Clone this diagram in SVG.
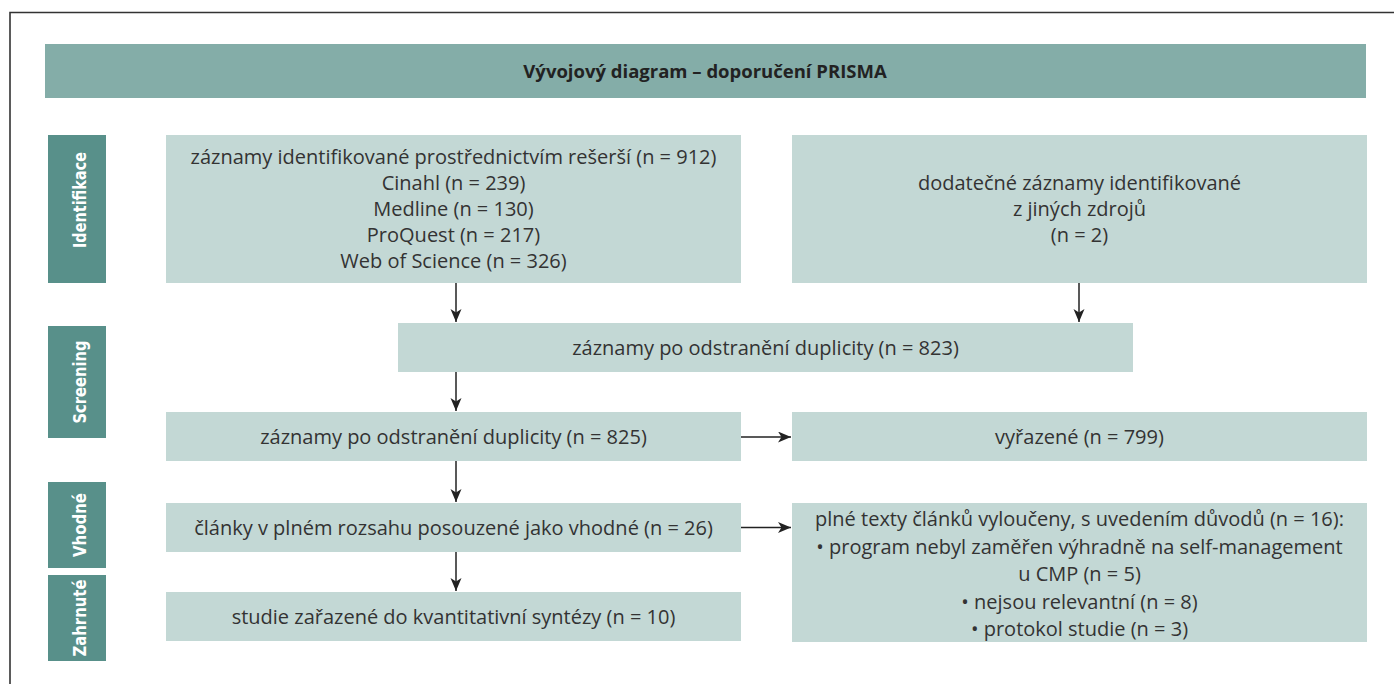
<svg xmlns="http://www.w3.org/2000/svg" width="1394" height="684" viewBox="0 0 1394 684">
<style>
  .box { fill: #C3D8D5; }
  .side { fill: #58908A; }
  .t { font-family: "Open Sans", "Liberation Sans", sans-serif; font-size: 20px; fill: #333333; text-anchor: middle; }
  .title { font-family: "Open Sans", "Liberation Sans", sans-serif; font-size: 18.5px; font-weight: bold; fill: #222222; text-anchor: middle; }
  .st { font-family: "DejaVu Sans Condensed", "Open Sans", sans-serif; font-size: 18px; font-weight: bold; fill: #ffffff; text-anchor: middle; }
  .c { stroke: #222222; stroke-width: 1.5; fill: none; marker-end: url(#ah); }
</style>
<defs>
  <marker id="ah" markerUnits="userSpaceOnUse" markerWidth="14" markerHeight="12" refX="13" refY="5.5" orient="auto">
    <path d="M0,0 L13,5.5 L0,11 L3.5,5.5 z" fill="#222222"/>
  </marker>
</defs>
<rect width="1394" height="684" fill="#ffffff"/>
<path d="M10,684 L10,12.5 L1394,12.5" stroke="#333333" stroke-width="1.6" fill="none"/>

<g id="header">
  <rect x="45" y="44" width="1321" height="54" fill="#84ADA8"/>
  <text class="title" x="705" y="78">Vývojový diagram – doporučení PRISMA</text>
</g>

<g id="stage-identifikace">
  <rect class="side" x="48" y="135" width="58" height="148"/>
  <text class="st" transform="translate(86,200) rotate(-90)" textLength="96" lengthAdjust="spacingAndGlyphs">Identifikace</text>
</g>
<g id="stage-screening">
  <rect class="side" x="48" y="326" width="58" height="112"/>
  <text class="st" transform="translate(86,382) rotate(-90)" textLength="83" lengthAdjust="spacingAndGlyphs">Screening</text>
</g>
<g id="stage-vhodne">
  <rect class="side" x="48" y="482" width="58" height="86"/>
  <text class="st" transform="translate(86,525) rotate(-90)" textLength="64" lengthAdjust="spacingAndGlyphs">Vhodné</text>
</g>
<g id="stage-zahrnute">
  <rect class="side" x="48" y="575" width="58" height="86"/>
  <text class="st" transform="translate(86,618) rotate(-90)" textLength="77" lengthAdjust="spacingAndGlyphs">Zahrnuté</text>
</g>

<g id="n-search">
  <rect class="box" x="166" y="135" width="575" height="148"/>
  <text class="t" x="453.5" y="164">záznamy identifikované prostřednictvím rešerší (n = 912)</text>
  <text class="t" x="453.5" y="190">Cinahl (n = 239)</text>
  <text class="t" x="453.5" y="216">Medline (n = 130)</text>
  <text class="t" x="453.5" y="242">ProQuest (n = 217)</text>
  <text class="t" x="453.5" y="268">Web of Science (n = 326)</text>
</g>
<g id="n-other">
  <rect class="box" x="792" y="135" width="575" height="148"/>
  <text class="t" x="1079.5" y="190">dodatečné záznamy identifikované</text>
  <text class="t" x="1079.5" y="216">z jiných zdrojů</text>
  <text class="t" x="1079.5" y="242">(n = 2)</text>
</g>
<g id="n-dedup">
  <rect class="box" x="398" y="323" width="735" height="49"/>
  <text class="t" x="765.5" y="355">záznamy po odstranění duplicity (n = 823)</text>
</g>
<g id="n-screened">
  <rect class="box" x="166" y="412" width="575" height="49"/>
  <text class="t" x="453.5" y="444">záznamy po odstranění duplicity (n = 825)</text>
</g>
<g id="n-excluded">
  <rect class="box" x="792" y="412" width="575" height="49"/>
  <text class="t" x="1079.5" y="444">vyřazené (n = 799)</text>
</g>
<g id="n-eligible">
  <rect class="box" x="166" y="503" width="575" height="49"/>
  <text class="t" x="453.5" y="535">články v plném rozsahu posouzené jako vhodné (n = 26)</text>
</g>
<g id="n-fulltext-excluded">
  <rect class="box" x="792" y="503" width="575" height="139"/>
  <text class="t" x="1079.5" y="526">plné texty článků vyloučeny, s uvedením důvodů (n = 16):</text>
  <text class="t" x="1079.5" y="554">• program nebyl zaměřen výhradně na self-management</text>
  <text class="t" x="1079.5" y="581">u CMP (n = 5)</text>
  <text class="t" x="1079.5" y="609">• nejsou relevantní (n = 8)</text>
  <text class="t" x="1079.5" y="636">• protokol studie (n = 3)</text>
</g>
<g id="n-included">
  <rect class="box" x="166" y="592" width="575" height="49"/>
  <text class="t" x="453.5" y="624">studie zařazené do kvantitativní syntézy (n = 10)</text>
</g>

<g id="connectors">
  <path class="c" d="M456,283 L456,322"/>
  <path class="c" d="M1079,283 L1079,322"/>
  <path class="c" d="M456,372 L456,411"/>
  <path class="c" d="M456,461 L456,502"/>
  <path class="c" d="M456,552 L456,591"/>
  <path class="c" d="M741,437 L791,437"/>
  <path class="c" d="M741,527.5 L791,527.5"/>
</g>
</svg>
